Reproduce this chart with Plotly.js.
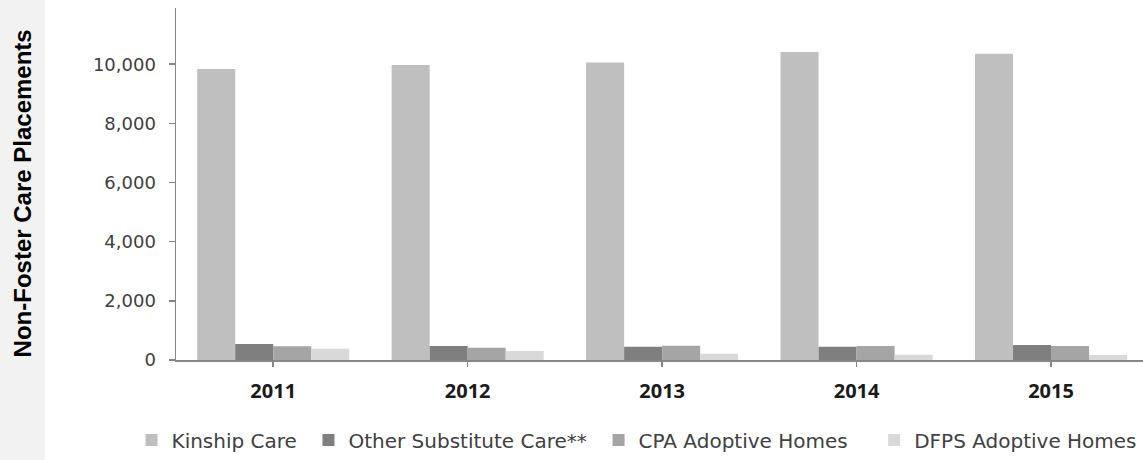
<!DOCTYPE html>
<html>
<head>
<meta charset="utf-8">
<script src="https://cdn.plot.ly/plotly-3.0.1.min.js"></script>
<style>
  html, body { margin: 0; padding: 0; background: #ffffff; }
  #chart { width: 1143px; height: 460px; }
</style>
</head>
<body>
<div id="chart"></div>
<script>
const years = ['2011', '2012', '2013', '2014', '2015'];
const kinshipCare = [9840, 9975, 10060, 10415, 10350];
const otherSubstituteCare = [540, 473, 450, 450, 507];
const cpaAdoptiveHomes = [463, 417, 484, 476, 473];
const dfpsAdoptiveHomes = [382, 304, 213, 175, 169];
const seriesNames = ['Kinship Care', 'Other Substitute Care**', 'CPA Adoptive Homes', 'DFPS Adoptive Homes'];
const seriesColors = ['#BFBFBF', '#7F7F7F', '#A5A5A5', '#D9D9D9'];
const yTicks = [0, 2000, 4000, 6000, 8000, 10000];

const seriesValues = [kinshipCare, otherSubstituteCare, cpaAdoptiveHomes, dfpsAdoptiveHomes];
const legendIds = ['legend', 'legend2', 'legend3', 'legend4'];

const traces = seriesValues.map((vals, i) => ({
  type: 'bar',
  x: years,
  y: vals,
  name: seriesNames[i],
  legend: legendIds[i],
  marker: { color: seriesColors[i], line: { width: 0 } },
  hoverinfo: 'x+y+name'
}));

const legendFont = { family: 'DejaVu Sans, sans-serif', size: 20, color: '#404040' };
const legendXs = [-0.046, 0.137, 0.437, 0.722];
const legendBase = {
  orientation: 'h', yanchor: 'middle', xanchor: 'left', y: -0.227,
  font: legendFont, bgcolor: 'rgba(0,0,0,0)', borderwidth: 0
};

const layout = {
  width: 1143,
  height: 460,
  margin: { l: 176, r: 0, t: 8, b: 100 },
  paper_bgcolor: '#ffffff',
  plot_bgcolor: '#ffffff',
  barmode: 'group',
  bargap: 0.218,
  bargroupgap: 0,
  showlegend: true,
  xaxis: {
    type: 'category',
    range: [-0.5, 4.473],
    showline: true,
    linecolor: '#868686',
    linewidth: 1.5,
    ticks: 'outside',
    ticklen: 5,
    tickcolor: '#868686',
    tickwidth: 1.5,
    showgrid: false,
    zeroline: false,
    tickfont: { family: 'Open Sans, sans-serif', size: 20, color: '#1a1a1a', weight: 'bold' },
    ticklabelstandoff: 7
  },
  yaxis: {
    range: [0, 11900],
    tickvals: yTicks,
    tickformat: ',d',
    showline: true,
    linecolor: '#868686',
    linewidth: 1.5,
    ticks: 'outside',
    ticklen: 6,
    tickcolor: '#868686',
    tickwidth: 1.5,
    showgrid: false,
    zeroline: false,
    tickfont: { family: 'DejaVu Sans, sans-serif', size: 18, color: '#404040' },
    ticklabelstandoff: 9
  },
  shapes: [{
    type: 'rect', xref: 'paper', yref: 'paper', layer: 'below',
    x0: -0.1821, x1: -0.1355, y0: -0.3, y1: 1.1,
    fillcolor: '#F2F2F2', line: { width: 0 }
  }],
  annotations: [{
    text: 'Non-Foster Care Placements',
    xref: 'paper', yref: 'paper',
    x: -0.159, y: 0.474,
    xanchor: 'center', yanchor: 'middle',
    textangle: -90, showarrow: false,
    font: { family: 'Liberation Sans, Arial, sans-serif', size: 24, color: '#000000', weight: 'bold' }
  }]
};
legendIds.forEach((id, i) => {
  layout[id] = Object.assign({}, legendBase, { x: legendXs[i] });
});

Plotly.newPlot('chart', traces, layout, { displayModeBar: false, staticPlot: true });
</script>
</body>
</html>
